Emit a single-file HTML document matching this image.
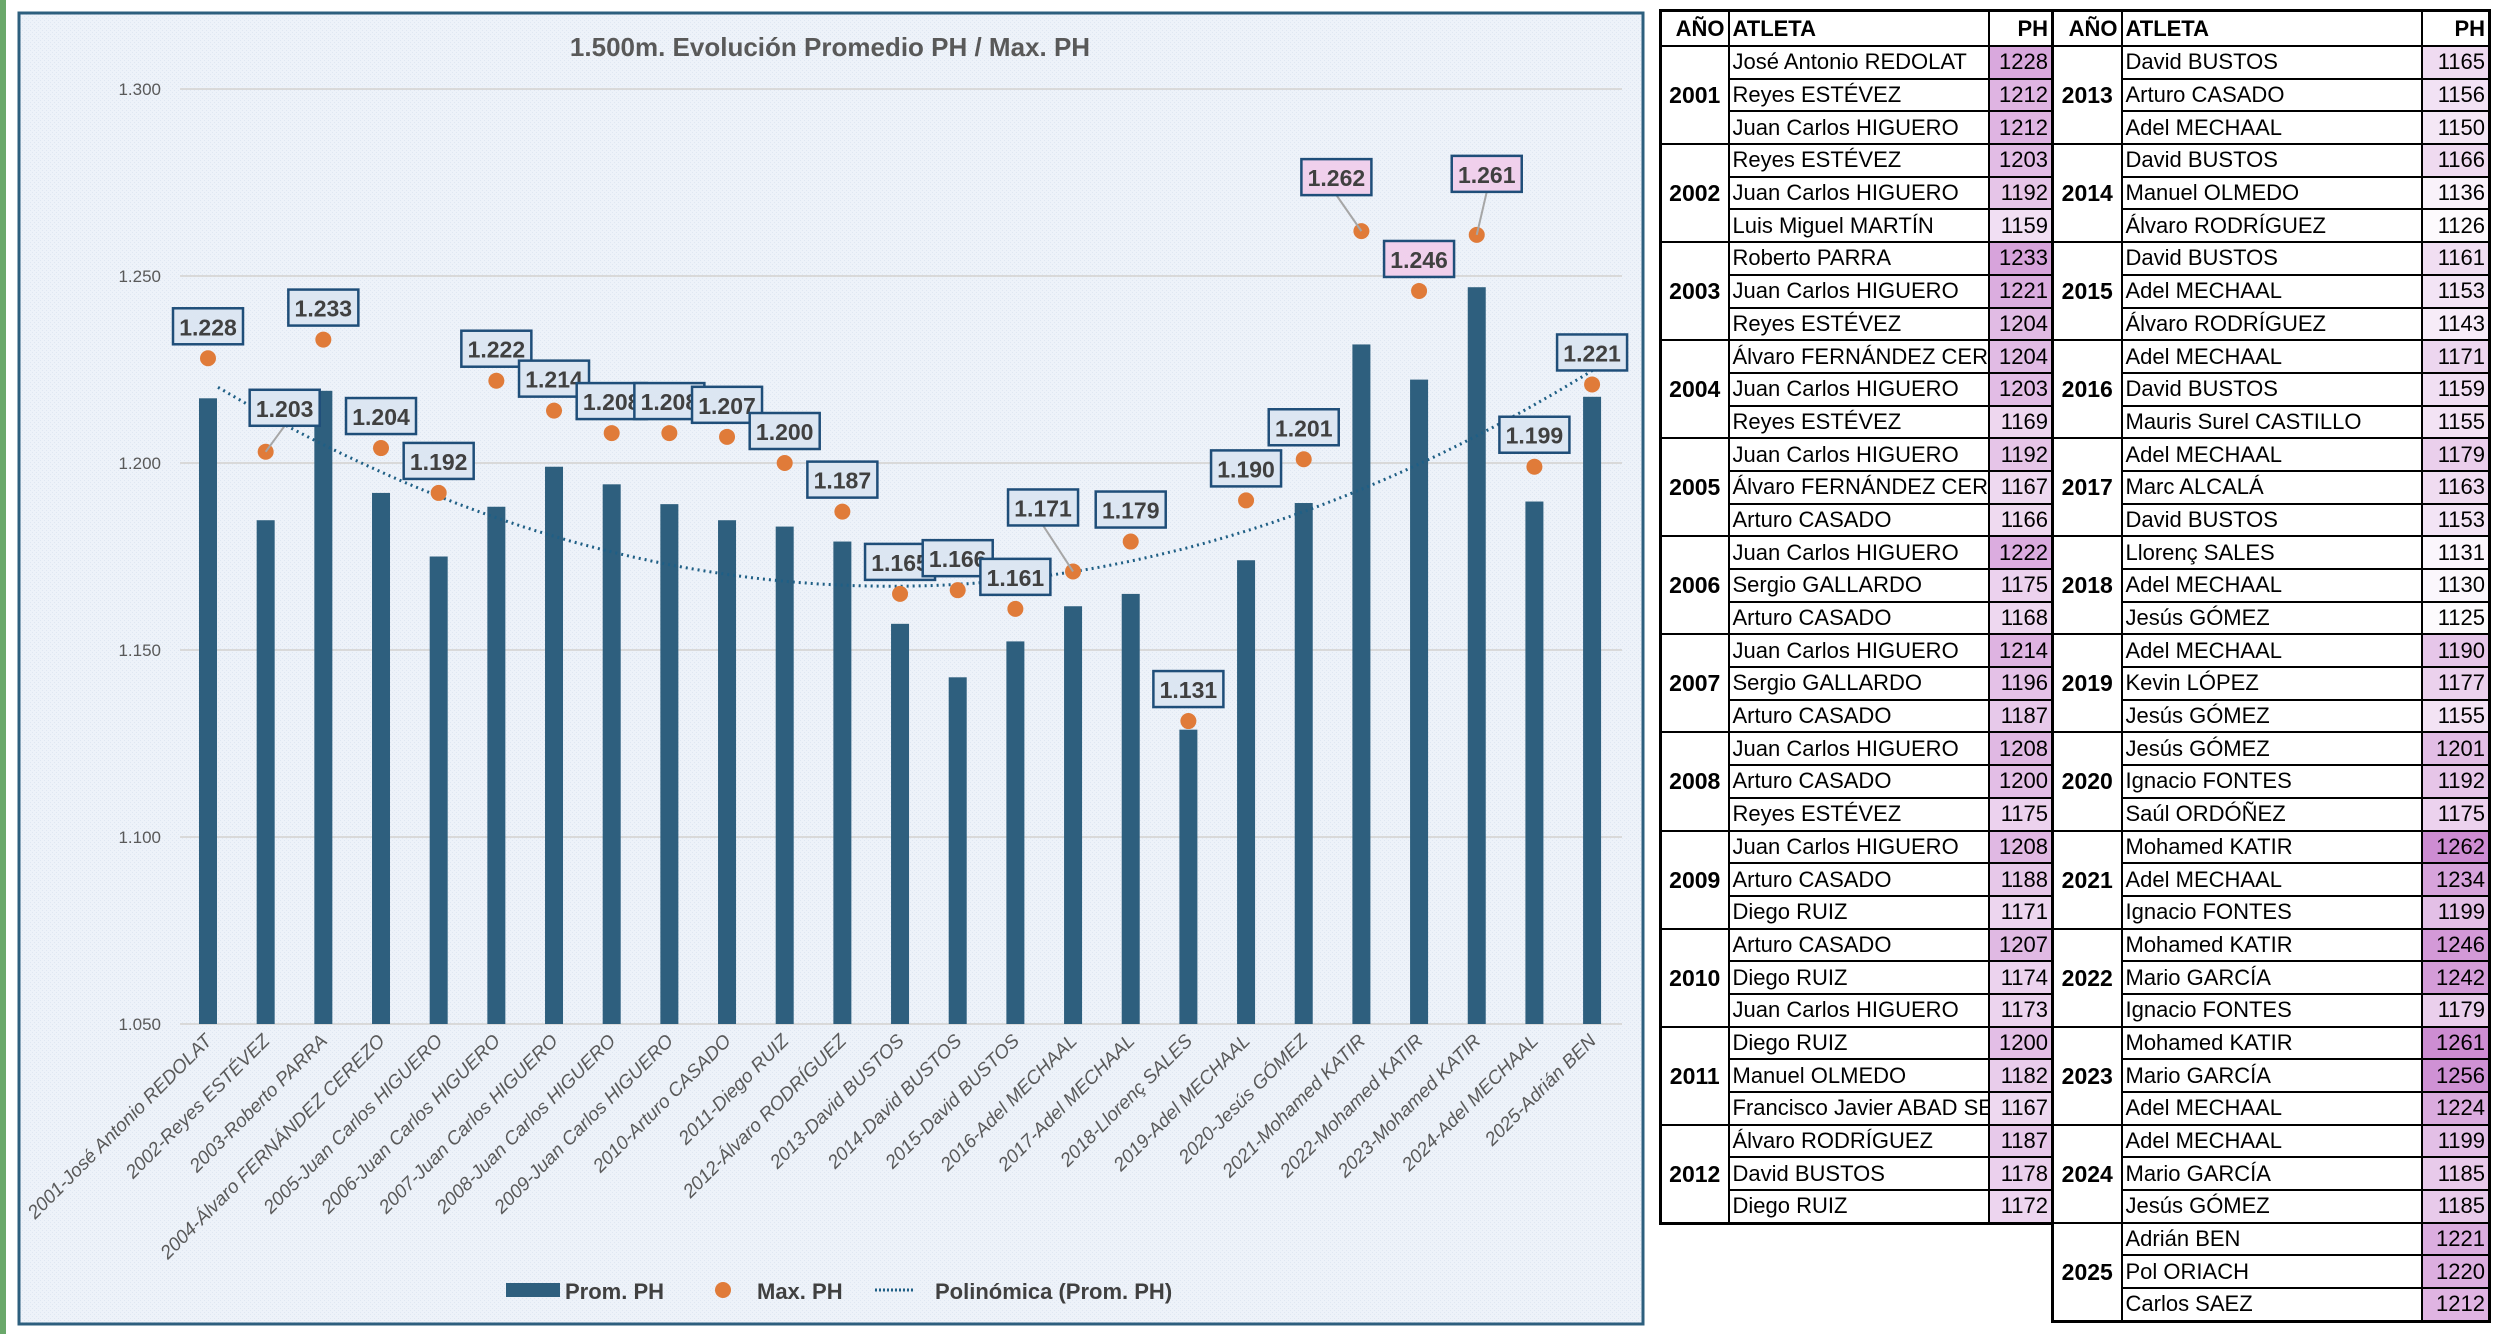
<!DOCTYPE html>
<html><head><meta charset="utf-8">
<style>
body{margin:0;width:2500px;height:1334px;background:#fff;position:relative;overflow:hidden;font-family:"Liberation Sans",sans-serif}
#chart{position:absolute;left:0;top:0}
table{position:absolute;border-collapse:collapse;font-family:"Liberation Sans Narrow","Liberation Sans",sans-serif;font-size:22px;table-layout:fixed;border:3px solid #000}
td,th{border:2px solid #000;height:30.7px;padding:0 3px;white-space:nowrap;overflow:hidden;line-height:28px}
th{font-weight:bold;text-align:left;height:33px;background:#fff}
th.ph,td.ph{text-align:right}
td.yr{font-weight:bold;text-align:center;font-size:23px}
</style></head><body>
<svg id="chart" width="1660" height="1334" xmlns="http://www.w3.org/2000/svg">
<defs><pattern id="bgp" width="4" height="4" patternUnits="userSpaceOnUse"><rect width="4" height="4" fill="#edf2f9"/><rect width="1" height="1" fill="#dfe7f2"/><rect x="2" y="2" width="1" height="1" fill="#dfe7f2"/></pattern></defs>
<rect x="0" y="0" width="6" height="1334" fill="#6aa86a"/>
<rect x="19" y="13" width="1624" height="1311" fill="url(#bgp)" stroke="#2d5f7e" stroke-width="3"/>
<text x="830" y="56" text-anchor="middle" font-size="26" font-weight="bold" fill="#595959">1.500m. Evolución Promedio PH / Max. PH</text>
<g id="grid"></g><g id="bars"></g><g id="trend"></g><g id="pts"></g><g id="lbls"></g><g id="xl"></g>
<g>
<rect x="506" y="1283" width="54" height="14" fill="#2e5f7e"/>
<text x="565" y="1299" font-size="22" font-weight="bold" fill="#404040">Prom. PH</text>
<circle cx="723" cy="1290" r="8" fill="#e07b39"/>
<text x="757" y="1299" font-size="22" font-weight="bold" fill="#404040">Max. PH</text>
<line x1="875" y1="1290" x2="915" y2="1290" stroke="#1f5f85" stroke-width="3" stroke-dasharray="2 2"/>
<text x="935" y="1299" font-size="22" font-weight="bold" fill="#404040">Polinómica (Prom. PH)</text>
</g>
</svg>
<div id="tables"></div>
<script>
const categories=["2001-José Antonio REDOLAT","2002-Reyes ESTÉVEZ","2003-Roberto PARRA","2004-Álvaro FERNÁNDEZ CEREZO","2005-Juan Carlos HIGUERO","2006-Juan Carlos HIGUERO","2007-Juan Carlos HIGUERO","2008-Juan Carlos HIGUERO","2009-Juan Carlos HIGUERO","2010-Arturo CASADO","2011-Diego RUIZ","2012-Álvaro RODRÍGUEZ","2013-David BUSTOS","2014-David BUSTOS","2015-David BUSTOS","2016-Adel MECHAAL","2017-Adel MECHAAL","2018-Llorenç SALES","2019-Adel MECHAAL","2020-Jesús GÓMEZ","2021-Mohamed KATIR","2022-Mohamed KATIR","2023-Mohamed KATIR","2024-Adel MECHAAL","2025-Adrián BEN"];
const promPH=[1217.3,1184.7,1219.3,1192,1175,1188.3,1199,1194.3,1189,1184.7,1183,1179,1157,1142.7,1152.3,1161.7,1165,1128.7,1174,1189.3,1231.7,1222.3,1247,1189.7,1217.7];
const maxPH=[1228,1203,1233,1204,1192,1222,1214,1208,1208,1207,1200,1187,1165,1166,1161,1171,1179,1131,1190,1201,1262,1246,1261,1199,1221];
const yTicks=[1050,1100,1150,1200,1250,1300];
const yTickLabels=["1.050","1.100","1.150","1.200","1.250","1.300"];
const NS="http://www.w3.org/2000/svg";
function y(v){return 89+(1300-v)*3.74;}
function x(i){return 208+i*57.67;}
function mk(tag,attrs,parent){const e=document.createElementNS(NS,tag);for(const k in attrs)e.setAttribute(k,attrs[k]);parent.appendChild(e);return e;}
const G=id=>document.getElementById(id);
yTicks.forEach((t,i)=>{
 const l=mk('line',{x1:180,x2:1622,y1:y(t),y2:y(t),stroke:'#d9d9d9','stroke-width':2},G('grid'));
 
 
 const tx=mk('text',{x:161,y:y(t)+6,'text-anchor':'end','font-size':17,fill:'#595959'},G('grid'));
 tx.textContent=yTickLabels[i];
 
 
});
promPH.forEach((v,i)=>{
 const r=mk('rect',{x:x(i)-9,y:y(v),width:18,height:y(1050)-y(v),fill:'#2e5f7e'},G('bars'));
 
 
});
// quadratic least squares trend
(function(){
 const n=promPH.length;let S=[0,0,0,0,0],T=[0,0,0];
 promPH.forEach((v,i)=>{const t=i+1;for(let k=0;k<5;k++)S[k]+=Math.pow(t,k);for(let k=0;k<3;k++)T[k]+=v*Math.pow(t,k);});
 const A=[[S[0],S[1],S[2],T[0]],[S[1],S[2],S[3],T[1]],[S[2],S[3],S[4],T[2]]];
 for(let c=0;c<3;c++){for(let r=c+1;r<3;r++){const f=A[r][c]/A[c][c];for(let k=c;k<4;k++)A[r][k]-=f*A[c][k];}}
 const b=[0,0,0];for(let r=2;r>=0;r--){let s=A[r][3];for(let k=r+1;k<3;k++)s-=A[r][k]*b[k];b[r]=s/A[r][r];}
 let d='';for(let s=0;s<=240;s++){const t=1+s*0.1;const v=b[0]+b[1]*t+b[2]*t*t;d+=(s?'L':'M')+(x(t-1)+10).toFixed(1)+','+y(v).toFixed(1);}
 const p=mk('path',{d:d,fill:'none',stroke:'#1f5f85','stroke-width':3,'stroke-dasharray':'2 4'},G('trend'));
 
 
})();
const off={1:[19,-44],15:[-30,-64],20:[-25,-54],22:[10,-61]};
maxPH.forEach((v,i)=>{
 const cx=x(i),cy=y(v);
 const o=off[i]||[0,-32];
 const bx=cx+o[0],by=cy+o[1];
 if(off[i]){const ln=mk('line',{x1:bx,y1:by+18,x2:cx,y2:cy,stroke:'#a6a6a6','stroke-width':2},G('lbls'));
  
  }
 const c=mk('circle',{cx:cx,cy:cy,r:8,fill:'#e07b39'},G('pts'));
 
 
 const pink=v>=1240;
 const r=mk('rect',{x:bx-35,y:by-18,width:70,height:36,fill:pink?'#f0d0ec':'#dce6f2',stroke:'#1f4e79','stroke-width':2.5},G('lbls'));
 
 
 const t=mk('text',{x:bx,y:by+9,'text-anchor':'middle','font-size':23,'font-weight':'bold',fill:'#404040'},G('lbls'));
 t.textContent=(v/1000).toFixed(3);
 
 
});
categories.forEach((c,i)=>{
 const ax=x(i)+5,ay=1042;
 const t=mk('text',{x:ax,y:ay,'text-anchor':'end','font-size':19,'font-style':'italic',fill:'#595959',transform:`rotate(-45 ${ax} ${ay})`},G('xl'));
 t.textContent=c;
 
 
});
// tables
const left=[["2001",[["José Antonio REDOLAT",1228],["Reyes ESTÉVEZ",1212],["Juan Carlos HIGUERO",1212]]],["2002",[["Reyes ESTÉVEZ",1203],["Juan Carlos HIGUERO",1192],["Luis Miguel MARTÍN",1159]]],["2003",[["Roberto PARRA",1233],["Juan Carlos HIGUERO",1221],["Reyes ESTÉVEZ",1204]]],["2004",[["Álvaro FERNÁNDEZ CEREZO",1204],["Juan Carlos HIGUERO",1203],["Reyes ESTÉVEZ",1169]]],["2005",[["Juan Carlos HIGUERO",1192],["Álvaro FERNÁNDEZ CEREZO",1167],["Arturo CASADO",1166]]],["2006",[["Juan Carlos HIGUERO",1222],["Sergio GALLARDO",1175],["Arturo CASADO",1168]]],["2007",[["Juan Carlos HIGUERO",1214],["Sergio GALLARDO",1196],["Arturo CASADO",1187]]],["2008",[["Juan Carlos HIGUERO",1208],["Arturo CASADO",1200],["Reyes ESTÉVEZ",1175]]],["2009",[["Juan Carlos HIGUERO",1208],["Arturo CASADO",1188],["Diego RUIZ",1171]]],["2010",[["Arturo CASADO",1207],["Diego RUIZ",1174],["Juan Carlos HIGUERO",1173]]],["2011",[["Diego RUIZ",1200],["Manuel OLMEDO",1182],["Francisco Javier ABAD SEBASTIÁN",1167]]],["2012",[["Álvaro RODRÍGUEZ",1187],["David BUSTOS",1178],["Diego RUIZ",1172]]]];
const right=[["2013",[["David BUSTOS",1165],["Arturo CASADO",1156],["Adel MECHAAL",1150]]],["2014",[["David BUSTOS",1166],["Manuel OLMEDO",1136],["Álvaro RODRÍGUEZ",1126]]],["2015",[["David BUSTOS",1161],["Adel MECHAAL",1153],["Álvaro RODRÍGUEZ",1143]]],["2016",[["Adel MECHAAL",1171],["David BUSTOS",1159],["Mauris Surel CASTILLO",1155]]],["2017",[["Adel MECHAAL",1179],["Marc ALCALÁ",1163],["David BUSTOS",1153]]],["2018",[["Llorenç SALES",1131],["Adel MECHAAL",1130],["Jesús GÓMEZ",1125]]],["2019",[["Adel MECHAAL",1190],["Kevin LÓPEZ",1177],["Jesús GÓMEZ",1155]]],["2020",[["Jesús GÓMEZ",1201],["Ignacio FONTES",1192],["Saúl ORDÓÑEZ",1175]]],["2021",[["Mohamed KATIR",1262],["Adel MECHAAL",1234],["Ignacio FONTES",1199]]],["2022",[["Mohamed KATIR",1246],["Mario GARCÍA",1242],["Ignacio FONTES",1179]]],["2023",[["Mohamed KATIR",1261],["Mario GARCÍA",1256],["Adel MECHAAL",1224]]],["2024",[["Adel MECHAAL",1199],["Mario GARCÍA",1185],["Jesús GÓMEZ",1185]]],["2025",[["Adrián BEN",1221],["Pol ORIACH",1220],["Carlos SAEZ",1212]]]];
function col(v){const t=Math.max(0,Math.min(1,(v-1120)/(1262-1120)));const r=Math.round(255-t*50),g=Math.round(255-t*115),b=Math.round(255-t*45);return `rgb(${r},${g},${b})`;}
function build(data,lx,w,cw,name){
 let h=`<table style="left:${lx}px;top:9px;width:${w}px"><colgroup><col style="width:${cw[0]}px"><col style="width:${cw[1]}px"><col style="width:${cw[2]}px"></colgroup><tr><th style="text-align:right">AÑO</th><th>ATLETA</th><th class="ph">PH</th></tr>`;
 data.forEach(([yr,rows])=>{rows.forEach((r,j)=>{h+=`<tr>${j==0?`<td class="yr" rowspan="3">${yr}</td>`:''}<td>${r[0]}</td><td class="ph" style="background:${col(r[1])}">${r[1]}</td></tr>`;});});
 return h+'</table>';
}
G('tables').innerHTML=build(left,1659,392,[68,260,64],'table-2001-2012')+build(right,2051,437,[69,300,68],'table-2013-2025');
</script>
</body></html>
